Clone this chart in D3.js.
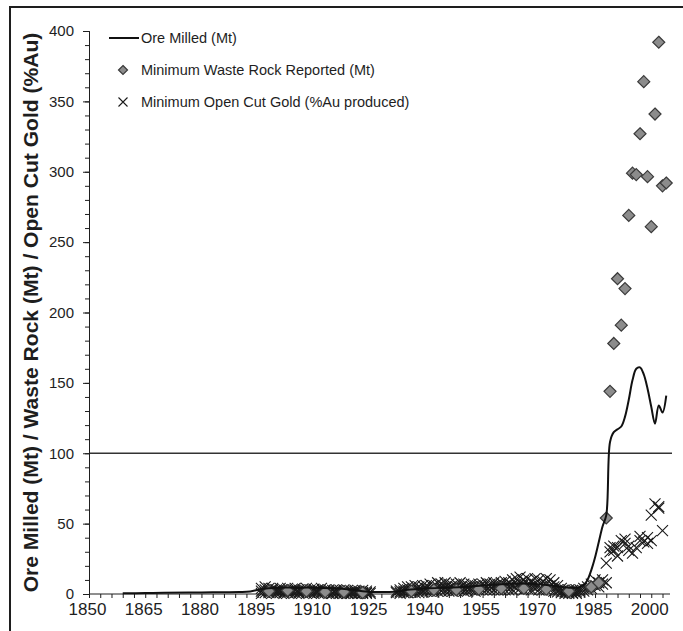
<!DOCTYPE html>
<html>
<head>
<meta charset="utf-8">
<script src="https://cdn.jsdelivr.net/npm/d3@7/dist/d3.min.js"></script>
<style>
  html, body { margin: 0; padding: 0; background: #fff; }
  svg { display: block; font-family: "Liberation Sans", Arial, sans-serif; }
</style>
</head>
<body>
<svg id="chart" width="683" height="631"></svg>
<script>
// Ore milled per year (Mt)
const oreYears = [1859, 1865, 1870, 1880, 1890, 1893, 1896, 1900, 1905, 1910, 1915, 1920, 1925, 1930, 1933,
  1935, 1940, 1945, 1950, 1955, 1960, 1965, 1970, 1975, 1978, 1980, 1981, 1982, 1983, 1984, 1985, 1986,
  1987, 1988, 1989, 1990, 1991, 1992, 1993, 1994, 1995, 1996, 1997, 1998, 1999, 2000, 2001, 2002, 2003, 2004];
const oreMilled = [0.5, 0.7, 0.9, 1.1, 1.4, 1.8, 3.5, 4.5, 4.5, 4.5, 4, 3, 1.5, 1.5, 2,
  3, 4, 4.5, 5, 6, 7, 7.5, 7, 5.5, 4.5, 4.5, 5, 6.5, 10, 17, 26, 37,
  48, 56, 108, 115, 117, 119, 126, 138, 152, 160, 161, 156, 146, 133, 121, 134, 129, 141];

// Minimum waste rock reported (Mt)
const wasteYears = [1898, 1903, 1908, 1913, 1918, 1923, 1936, 1942, 1948, 1954, 1960, 1966, 1972, 1978, 1984, 1986,
  1988, 1989, 1990, 1991, 1992, 1993, 1994, 1995, 1996, 1997, 1998, 1999, 2000, 2001, 2002, 2003, 2004];
const wasteRock = [2, 2.5, 2, 1.5, 1.5, 1, 2, 3, 3, 3.5, 4, 4, 3.5, 2, 5, 8,
  54, 144, 178, 224, 191, 217, 269, 299, 298, 327, 364, 296.5, 261, 341, 392, 290, 292];

// Minimum open cut gold (% of Au produced), several operations per year
const goldYears = [
  1896,1896,1896, 1897,1897,1897, 1898,1898,1898, 1899,1899,1899, 1900,1900,1900,
  1901,1901,1901, 1902,1902,1902, 1903,1903,1903, 1904,1904,1904, 1905,1905,1905,
  1906,1906,1906, 1907,1907,1907, 1908,1908,1908, 1909,1909,1909, 1910,1910,1910,
  1911,1911,1911, 1912,1912,1912, 1913,1913,1913, 1914,1914,1914, 1915,1915,1915,
  1916,1916,1916, 1917,1917,1917, 1918,1918,1918, 1919,1919,1919, 1920,1920,1920,
  1921,1921,1921, 1922,1922,1922, 1923,1923,1923, 1924,1924,1924, 1925,1925,
  1932,1932, 1933,1933,1933, 1934,1934,1934, 1935,1935,1935, 1936,1936,1936,
  1937,1937,1937, 1938,1938,1938, 1939,1939,1939, 1940,1940,1940, 1941,1941,1941,
  1942,1942,1942, 1943,1943,1943, 1944,1944,1944, 1945,1945,1945, 1946,1946,1946,
  1947,1947,1947, 1948,1948,1948, 1949,1949,1949, 1950,1950,1950, 1951,1951,1951,
  1952,1952,1952, 1953,1953,1953, 1954,1954,1954, 1955,1955,1955, 1956,1956,1956,
  1957,1957,1957, 1958,1958,1958, 1959,1959,1959, 1960,1960,1960, 1961,1961,1961,
  1962,1962,1962, 1963,1963,1963, 1964,1964,1964, 1965,1965,1965, 1966,1966,1966,
  1967,1967,1967, 1968,1968,1968, 1969,1969,1969, 1970,1970,1970, 1971,1971,1971,
  1972,1972,1972, 1973,1973,1973, 1974,1974,1974, 1975,1975,1975, 1976,1976,1976,
  1977,1977,1977, 1978,1978,1978, 1979,1979,1979, 1980,1980,1980, 1981,1981,
  1982,1982, 1983,1983, 1984,1984, 1985,1985, 1986,1986, 1987,1987, 1988,1988,
  1989,1989, 1990,1990, 1991,1991, 1992, 1993,1993, 1994,1994, 1995, 1996,
  1997,1997, 1998, 1999,1999, 2000,2000, 2001, 2002,2002, 2003];
const goldShare = [
  4,2,0.5, 5,3,1, 4,2,1, 4,3,1, 3,2,0.5,
  4,2,1, 3,1.5,0.5, 4,2,1, 3,2,0.5, 4,2.5,1,
  3,1.5,0.5, 3.5,2,1, 4,2,0.5, 3,1.5,1, 3.5,2,0.5,
  3,2,1, 4,1.5,0.5, 3,2,1, 3,1.5,0.5, 2.5,1,0.5,
  3,1.5,0.5, 2.5,1,0.5, 3,1.5,0.5, 2.5,1,0.5, 2,1,0.5,
  2.5,1.5,0.5, 2,1,0.5, 2.5,1,0.5, 2,1,0.5, 1.5,0.5,
  2,1, 3,1.5,0.5, 4,2,1, 5,3,1, 5,3,1.5,
  6,3,1, 5,2.5,1, 6,3,1.5, 6,4,2, 7,4,2,
  6,3,1.5, 8,5,2, 7,4,2, 8,5,2.5, 7,4,2,
  6,4,2, 7,5,2.5, 8,5,3, 7,4,2, 6,4,2,
  7,5,3, 6,4,2, 7,5,3, 7,5,3, 8,5,3,
  7,5,3, 8,6,3, 7,5,3, 8,6,3, 9,6,3,
  8,5,3, 10,6,3, 11,7,4, 12,8,4, 10,7,3,
  11,7,4, 9,6,3, 11,7,4, 10,6,3, 9,6,3,
  11,7,3, 10,6,3, 8,5,2, 6,3,1.5, 4,2,1,
  3,1.5,0.5, 3,1.5,0.5, 2.5,1,0.5, 3,1.5,0.5, 3,1.5,
  4,2, 5,3, 7,4, 10,6, 8,5, 10,7, 22,8,
  33,30, 34,31, 33,27, 38, 39,36, 34,31, 29, 33,
  41,38, 37, 36,40, 56,38, 64, 62,61, 45];

// Axis tick labels
const yTicks = [0, 50, 100, 150, 200, 250, 300, 350, 400];
const xLabelYears = [1850, 1865, 1880, 1895, 1910, 1925, 1940, 1955, 1970, 1985, 2000];
const referenceLevel = 100;

const legendItems = [
  { type: "line", label: "Ore Milled (Mt)" },
  { type: "diamond", label: "Minimum Waste Rock Reported (Mt)" },
  { type: "cross", label: "Minimum Open Cut Gold (%Au produced)" }
];

const svg = d3.select("#chart");
const ink = "#1e1e1e";

// outer frame
svg.append("rect")
  .attr("x", 10).attr("y", 7).attr("width", 720).attr("height", 700)
  .attr("fill", "none").attr("stroke", ink).attr("stroke-width", 2);

const x = d3.scaleLinear().domain([1850, 2005]).range([89, 670]);
const y = d3.scaleLinear().domain([0, 400]).range([594, 31]);

// reference line at 100
svg.append("line")
  .attr("x1", x(1850)).attr("x2", x(2005) + 2)
  .attr("y1", y(referenceLevel)).attr("y2", y(referenceLevel))
  .attr("stroke", "#333").attr("stroke-width", 1.3);

// y axis: minor ticks every 10, major every 50
const yAxisMinor = d3.axisLeft(y).tickValues(d3.range(0, 401, 10)).tickSize(4).tickFormat("");
svg.append("g").attr("transform", `translate(${x(1850)},0)`).call(yAxisMinor)
  .call(g => g.selectAll("line").attr("stroke", ink))
  .call(g => g.select(".domain").attr("stroke", ink));
const yAxis = d3.axisLeft(y).tickValues(yTicks).tickSize(6).tickPadding(9);
svg.append("g").attr("transform", `translate(${x(1850)},0)`).call(yAxis)
  .call(g => g.select(".domain").attr("stroke", ink))
  .call(g => g.selectAll("line").attr("stroke", ink))
  .call(g => g.selectAll("text").attr("font-size", 15).attr("fill", ink)
    .attr("font-family", "Liberation Sans, Arial, sans-serif"));

// x axis: ticks every 3 years, labels every 15
const xAxisTicks = d3.axisBottom(x).tickValues(d3.range(1850, 2006, 3)).tickSize(4).tickFormat("");
svg.append("g").attr("transform", `translate(0,${y(0)})`).call(xAxisTicks)
  .call(g => g.select(".domain").attr("stroke", ink).attr("d", `M${x(1850)},0H${x(2005)}`))
  .call(g => g.selectAll("line").attr("stroke", ink));
const xAxisLabels = d3.axisBottom(x).tickValues(xLabelYears).tickSize(0).tickPadding(9).tickFormat(d3.format("d"));
svg.append("g").attr("transform", `translate(-2,${y(0)})`).call(xAxisLabels)
  .call(g => g.select(".domain").remove())
  .call(g => g.selectAll("text").attr("font-size", 17).attr("fill", ink)
    .attr("font-family", "Liberation Sans, Arial, sans-serif"));

// y axis title, sized to run the full height of the value axis
const title = svg.append("text")
  .attr("transform", `translate(38,${(y(0) + y(400)) / 2}) rotate(-90)`)
  .attr("text-anchor", "middle")
  .attr("font-size", 17).attr("font-weight", "bold").attr("fill", ink)
  .text("Ore Milled (Mt) / Waste Rock (Mt) / Open Cut Gold (%Au)");
const titleLen = title.node().getComputedTextLength();
title.attr("font-size", 17 * 560 / titleLen);

// marker shapes
const diamondPath = s => `M0,${-s}L${s},0L0,${s}L${-s},0Z`;
const crossPath = s => `M${-s},${-s}L${s},${s}M${-s},${s}L${s},${-s}`;

// open cut gold crosses
svg.append("g").selectAll("path")
  .data(goldYears.map((yr, i) => [yr, goldShare[i]]))
  .join("path")
  .attr("transform", d => `translate(${x(d[0])},${y(d[1])})`)
  .attr("d", crossPath(5.5))
  .attr("fill", "none").attr("stroke", "#1a1a1a").attr("stroke-width", 1.1);

// waste rock diamonds
svg.append("g").selectAll("path")
  .data(wasteYears.map((yr, i) => [yr, wasteRock[i]]))
  .join("path")
  .attr("transform", d => `translate(${x(d[0])},${y(d[1])})`)
  .attr("d", diamondPath(6))
  .attr("fill", "#8c8c8c").attr("stroke", "#3a3a3a").attr("stroke-width", 1.2);

// ore milled line
const line = d3.line().x(d => x(d[0])).y(d => y(d[1])).curve(d3.curveCatmullRom.alpha(0.5));
svg.append("path")
  .datum(oreYears.map((yr, i) => [yr, oreMilled[i]]))
  .attr("d", line)
  .attr("fill", "none").attr("stroke", "#111").attr("stroke-width", 2);

// legend
const legend = svg.append("g");
legendItems.forEach((item, i) => {
  const cy = 38 + i * 32;
  const row = legend.append("g");
  if (item.type === "line") {
    row.append("line").attr("x1", 109).attr("x2", 139).attr("y1", cy).attr("y2", cy)
      .attr("stroke", "#111").attr("stroke-width", 2);
  } else if (item.type === "diamond") {
    row.append("path").attr("transform", `translate(123,${cy})`).attr("d", diamondPath(4.5))
      .attr("fill", "#8c8c8c").attr("stroke", "#3a3a3a").attr("stroke-width", 1.2);
  } else {
    row.append("path").attr("transform", `translate(123,${cy})`).attr("d", crossPath(4.5))
      .attr("fill", "none").attr("stroke", "#1a1a1a").attr("stroke-width", 1.1);
  }
  row.append("text").attr("x", 141).attr("y", cy).attr("dy", "0.35em")
    .attr("font-size", 14.5).attr("fill", ink).text(item.label);
});
</script>
</body>
</html>
